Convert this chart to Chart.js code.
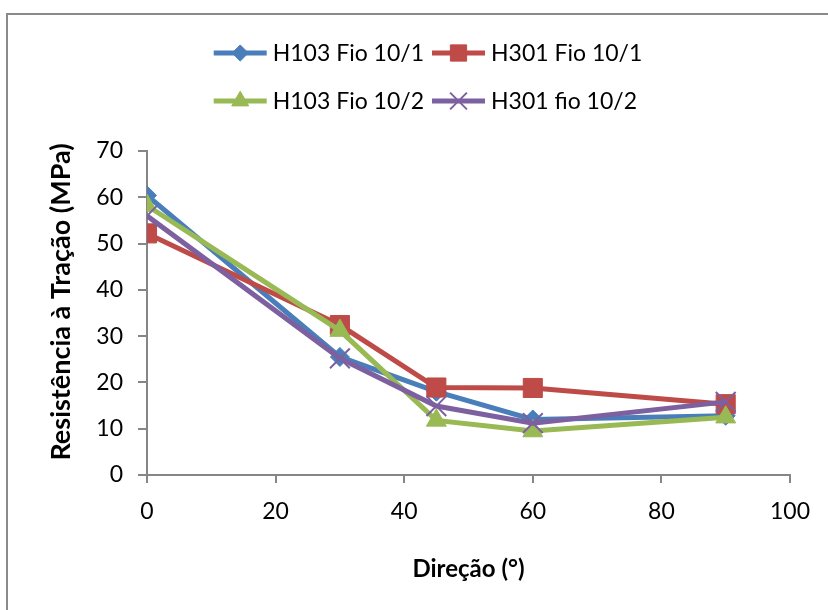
<!DOCTYPE html>
<html>
<head>
<meta charset="utf-8">
<script src="https://cdn.jsdelivr.net/npm/chart.js@4/dist/chart.umd.min.js"></script>
<style>
  html, body { margin: 0; padding: 0; background: #ffffff; }
  #wrap { width: 828px; height: 610px; position: relative; }
</style>
</head>
<body>
<div id="wrap"><canvas id="c" width="828" height="610"></canvas></div>
<script>
// ---- data ----
const directions = [0, 30, 45, 60, 90];
const h103Fio101 = [60.4, 25.5, 18.0, 12.0, 12.8];
const h301Fio101 = [52.2, 32.4, 18.9, 18.8, 15.3];
const h103Fio102 = [58.2, 31.2, 11.8, 9.5, 12.5];
const h301fio102 = [56.0, 25.2, 14.9, 11.2, 15.8];
const seriesNames = ['H103 Fio 10/1', 'H301 Fio 10/1', 'H103 Fio 10/2', 'H301 fio 10/2'];
const xTicks = [0, 20, 40, 60, 80, 100];
const yTicks = [0, 10, 20, 30, 40, 50, 60, 70];
const xTitle = 'Direção (°)';
const yTitle = 'Resistência à Tração (MPa)';

const FONT = 'Lato';
const AXIS_GRAY = '#868686';

function pts(arr) { return directions.map((d, i) => ({ x: d, y: arr[i] })); }

const styles = [
  { color: '#4A7EBB', pointStyle: 'rectRot', radius: 9.5, order: 3, pbw: 1 },
  { color: '#BE4B48', pointStyle: 'rect', radius: 13.5, order: 2, pbw: 1 },
  { color: '#98B954', pointStyle: 'triangle', radius: 11.5, order: 1, pbw: 1 },
  { color: '#7D60A0', pointStyle: 'crossRot', radius: 14, order: 0, pbw: 2 }
];
const values = [h103Fio101, h301Fio101, h103Fio102, h301fio102];

const datasets = values.map((v, i) => ({
  label: seriesNames[i],
  data: pts(v),
  borderColor: styles[i].color,
  backgroundColor: styles[i].color,
  borderWidth: 5,
  pointStyle: styles[i].pointStyle,
  pointRadius: styles[i].radius,
  pointHoverRadius: styles[i].radius,
  pointBorderWidth: styles[i].pbw,
  pointBorderColor: styles[i].color,
  pointBackgroundColor: styles[i].color,
  tension: 0,
  order: styles[i].order
}));

// outer frame (chart border, cropped on right and bottom)
const framePlugin = {
  id: 'frame',
  beforeDraw(chart) {
    const ctx = chart.ctx;
    ctx.save();
    ctx.fillStyle = '#ffffff';
    ctx.fillRect(0, 0, chart.width, chart.height);
    ctx.strokeStyle = '#8a8a8a';
    ctx.lineWidth = 2;
    ctx.strokeRect(7, 14, chart.width + 50, chart.height + 50);
    ctx.restore();
  }
};

// Excel-like legend: line + marker + text, two rows, aligned columns
const legendPlugin = {
  id: 'xlLegend',
  afterDraw(chart) {
    const ctx = chart.ctx;
    ctx.save();
    ctx.font = '23px ' + FONT;
    ctx.textBaseline = 'middle';
    ctx.textAlign = 'left';
    const lineLen = 53, gapText = 6, gapItem = 8;
    const rows = [[0, 1], [2, 3]];
    const rowY = [53, 101];
    const centerX = 428;
    const colW = [0, 1].map(c => Math.max(...rows.map(r => lineLen + gapText + ctx.measureText(seriesNames[r[c]]).width)));
    const total = colW[0] + colW[1] + gapItem;
    const colX = [centerX - total / 2, centerX - total / 2 + colW[0] + gapItem];
    rows.forEach((row, r) => {
      row.forEach((i, k) => {
        const ds = chart.data.datasets[i];
        const st = styles[i];
        const x = colX[k];
        const y = rowY[r];
        ctx.strokeStyle = ds.borderColor;
        ctx.lineWidth = 5;
        ctx.beginPath();
        ctx.moveTo(x, y);
        ctx.lineTo(x + lineLen, y);
        ctx.stroke();
        ctx.fillStyle = ds.pointBackgroundColor;
        ctx.strokeStyle = ds.pointBorderColor;
        ctx.lineWidth = st.pbw;
        Chart.helpers.drawPoint(ctx, {
          pointStyle: st.pointStyle,
          rotation: 0,
          radius: st.radius * 0.85,
          borderWidth: st.pbw
        }, x + lineLen / 2, y);
        ctx.fillStyle = '#000000';
        ctx.fillText(seriesNames[i], x + lineLen + gapText, y + 1);
      });
    });
    ctx.restore();
  }
};

// rotated y-axis title, centred like the Excel original
const yTitlePlugin = {
  id: 'yTitle',
  afterDraw(chart) {
    const ctx = chart.ctx;
    ctx.save();
    ctx.translate(61, 302);
    ctx.rotate(-Math.PI / 2);
    ctx.font = 'bold 27px ' + FONT;
    ctx.fillStyle = '#000000';
    ctx.textAlign = 'center';
    ctx.textBaseline = 'middle';
    ctx.fillText(yTitle, 0, 0);
    ctx.restore();
  }
};

const chart = new Chart(document.getElementById('c'), {
  type: 'line',
  data: { datasets },
  plugins: [framePlugin, legendPlugin, yTitlePlugin],
  options: {
    responsive: false,
    animation: false,
    devicePixelRatio: 1,
    layout: { padding: { top: 151, right: 38, left: 0, bottom: 0 } },
    plugins: { legend: { display: false }, tooltip: { enabled: false } },
    scales: {
      x: {
        type: 'linear',
        min: 0, max: 100,
        afterBuildTicks(s) { s.ticks = xTicks.map(v => ({ value: v })); },
        afterFit(s) { s.height = 135; },
        ticks: { color: '#000000', font: { family: FONT, size: 23 }, padding: 15, maxRotation: 0 },
        grid: { display: true, drawOnChartArea: false, drawTicks: true, tickLength: 8, color: AXIS_GRAY, lineWidth: 2 },
        border: { display: true, color: AXIS_GRAY, width: 2 },
        title: { display: true, text: xTitle, color: '#000000', font: { family: FONT, size: 24, weight: 'bold' }, padding: { top: 26, bottom: 26 } }
      },
      y: {
        type: 'linear',
        min: 0, max: 70,
        afterBuildTicks(s) { s.ticks = yTicks.map(v => ({ value: v })); },
        afterFit(s) { s.width = 147; },
        ticks: { color: '#000000', font: { family: FONT, size: 23 }, padding: 15 },
        grid: { display: true, drawOnChartArea: false, drawTicks: true, tickLength: 9, color: AXIS_GRAY, lineWidth: 2 },
        border: { display: true, color: AXIS_GRAY, width: 2 },
        title: { display: false }
      }
    }
  }
});
</script>
</body>
</html>
